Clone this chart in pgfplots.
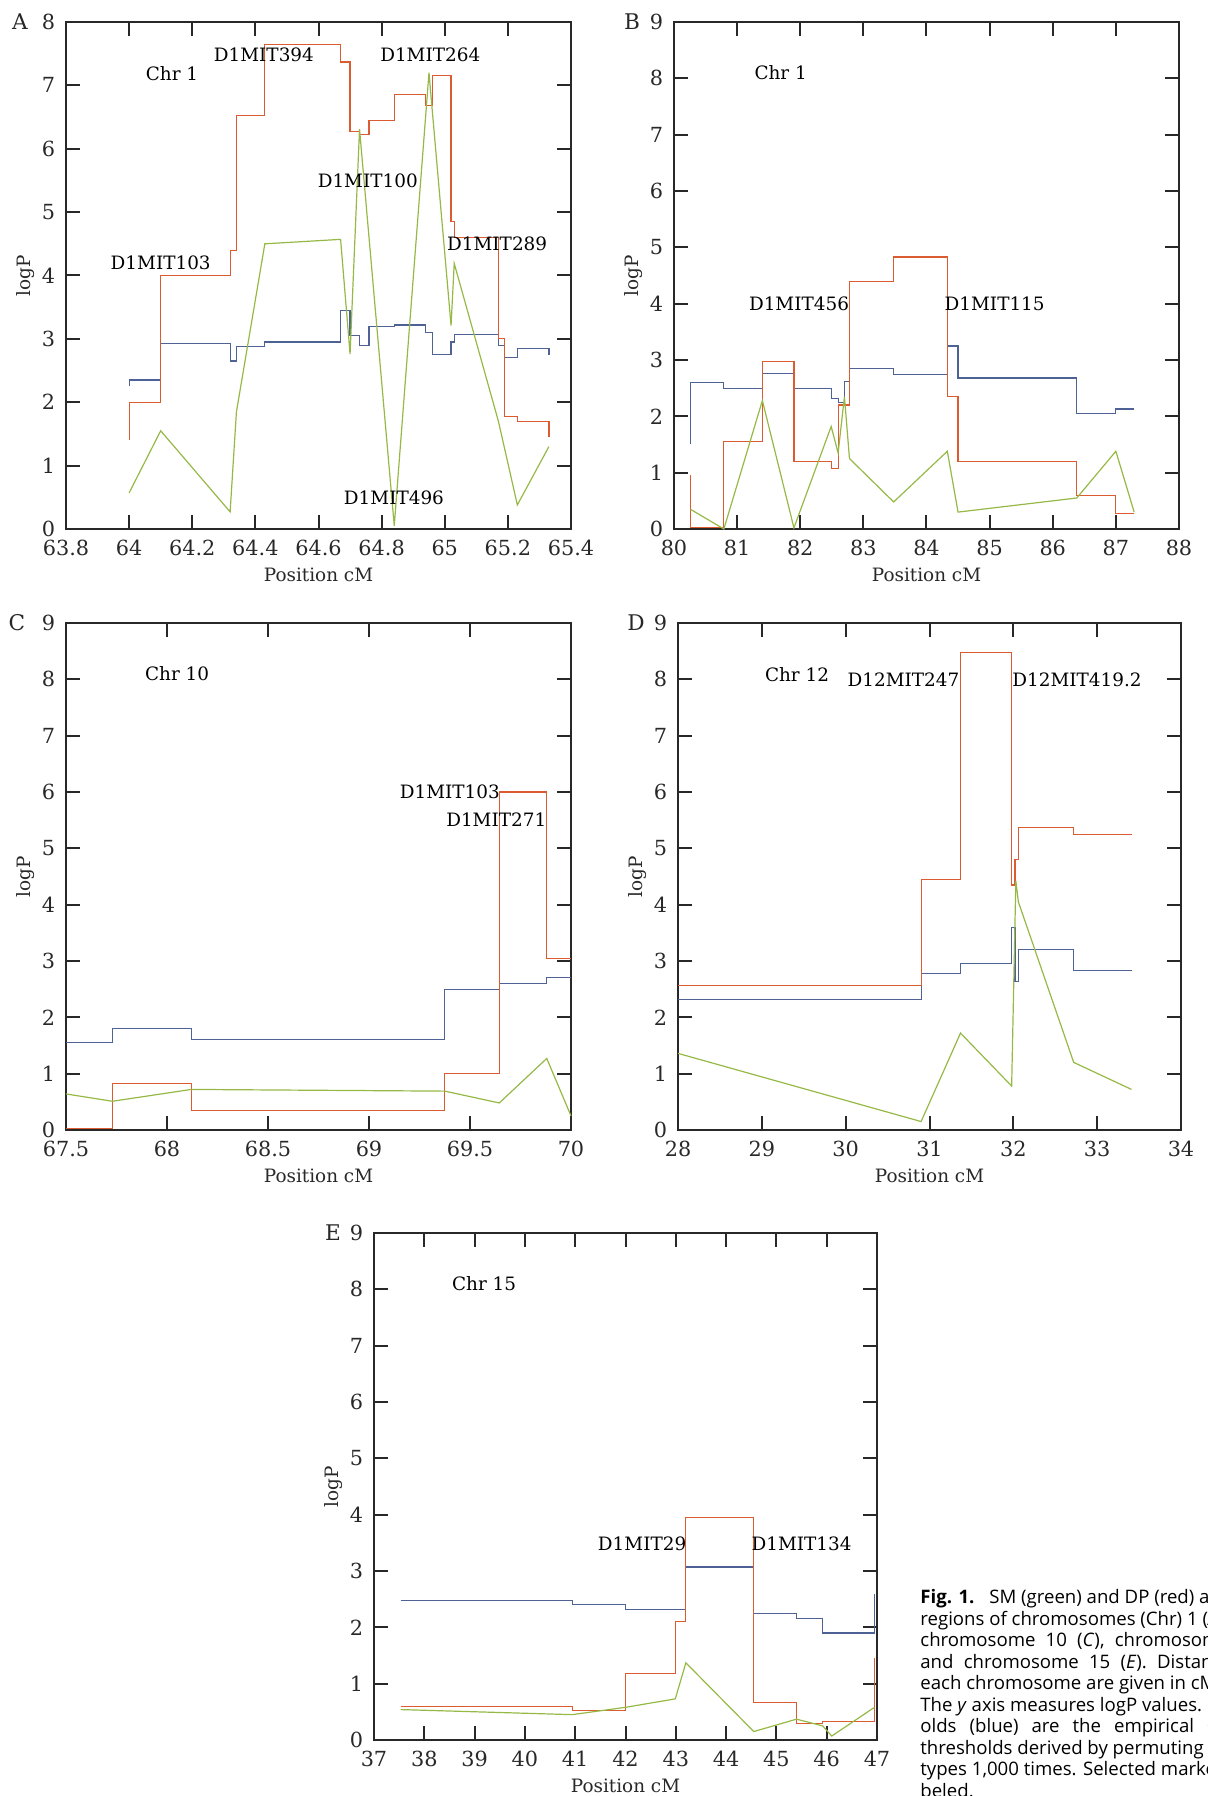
\documentclass[border=0pt]{standalone}
\usepackage{fontspec}
\setmainfont{DejaVu Serif}
\newfontfamily\capfont{Open Sans}
\usepackage{pgfplots}
\pgfplotsset{compat=1.18}
\definecolor{redl}{RGB}{218,92,48}
\definecolor{bluel}{RGB}{78,98,150}
\definecolor{greenl}{RGB}{150,185,70}
\definecolor{axc}{RGB}{40,40,40}
\newcommand{\fs}{\fontsize{9.2}{11}\selectfont}
\newcommand{\ft}{\fontsize{10.4}{12}\selectfont}
\pgfplotsset{panel/.style={
  scale only axis, width=252.5pt, height=253.5pt, anchor=south west,
  axis line style={line width=1.1pt, color=axc},
  tick align=inside, major tick length=7pt,
  tick style={line width=1pt, color=axc},
  ymin=0, clip=false, scaled ticks=false,
  tick label style={font=\ft, color=axc},
  label style={font=\fs, color=axc},
  /pgf/number format/assume math mode=true,
  yticklabel style={inner sep=0pt, xshift=-5.2pt},
  xticklabel style={inner sep=0pt, yshift=-5.4pt},
  xlabel={Position cM}, ylabel={logP},
  xlabel style={at={(axis description cs:0.5,-0.0907)}, anchor=center},
  ylabel style={at={(axis description cs:-0.081,0.5)}, anchor=center},
  every axis plot/.append style={line width=0.6pt},
}}
\begin{document}
\begin{tikzpicture}
\useasboundingbox (0,0) rectangle (603.5pt,898pt);
% ---------------- A
\begin{axis}[panel, at={(33pt,633.5pt)}, xmin=63.8, xmax=65.4, ymax=8,
  xtick={63.8,64,64.2,64.4,64.6,64.8,65,65.2,65.4}, ytick={0,...,8}]
\addplot[bluel, const plot] coordinates {(64.00,2.25) (64.00,2.35) (64.10,2.93) (64.32,2.65) (64.34,2.88) (64.43,2.95) (64.67,3.45) (64.70,3.05) (64.73,2.90) (64.76,3.20) (64.84,3.22) (64.94,3.10) (64.96,2.75) (65.02,2.95) (65.03,3.07) (65.17,2.90) (65.19,2.70) (65.23,2.85) (65.33,2.75)};
\addplot[redl, const plot] coordinates {(64.00,1.40) (64.00,2.00) (64.10,4.00) (64.32,4.40) (64.34,6.52) (64.43,7.65) (64.67,7.37) (64.70,6.27) (64.73,6.22) (64.76,6.45) (64.84,6.85) (64.94,6.68) (64.96,7.15) (65.02,4.85) (65.03,4.60) (65.17,3.00) (65.19,1.78) (65.23,1.70) (65.33,1.45)};
\addplot[greenl] coordinates {(64.00,0.57) (64.10,1.55) (64.32,0.27) (64.34,1.85) (64.43,4.50) (64.67,4.57) (64.70,2.76) (64.73,6.31) (64.84,0.05) (64.95,7.20) (65.02,3.21) (65.03,4.19) (65.17,1.70) (65.23,0.38) (65.33,1.30)};
\node[font=\fs] at (axis cs:64.136,7.18) {Chr 1};
\node[font=\fs] at (axis cs:64.427,7.49) {D1MIT394};
\node[font=\fs] at (axis cs:64.954,7.49) {D1MIT264};
\node[font=\fs] at (axis cs:64.756,5.49) {D1MIT100};
\node[font=\fs] at (axis cs:64.10,4.20) {D1MIT103};
\node[font=\fs] at (axis cs:65.166,4.50) {D1MIT289};
\node[font=\fs] at (axis cs:64.839,0.50) {D1MIT496};
\end{axis}
% ---------------- B
\begin{axis}[panel, at={(337pt,633.5pt)}, xmin=80, xmax=88, ymax=9,
  xtick={80,...,88}, ytick={0,...,9}]
\addplot[bluel, const plot] coordinates {(80.26,1.50) (80.26,2.60) (80.79,2.50) (81.40,2.76) (81.90,2.50) (82.49,2.32) (82.60,2.25) (82.70,2.62) (82.78,2.85) (83.48,2.74) (84.33,3.25) (84.50,2.68) (86.38,2.05) (87.00,2.13) (87.29,2.13)};
\addplot[redl, const plot] coordinates {(80.26,0.95) (80.26,0.03) (80.79,1.55) (81.40,2.97) (81.90,1.20) (82.49,1.08) (82.60,2.20) (82.78,4.40) (83.48,4.83) (84.33,2.35) (84.50,1.20) (86.38,0.60) (87.00,0.28) (87.29,0.28)};
\addplot[greenl] coordinates {(80.26,0.35) (80.79,0.00) (81.40,2.28) (81.90,0.02) (82.49,1.82) (82.60,1.35) (82.70,2.35) (82.78,1.25) (83.48,0.48) (84.33,1.38) (84.50,0.30) (86.38,0.55) (87.00,1.38) (87.29,0.30)};
\node[font=\fs] at (axis cs:81.69,8.10) {Chr 1};
\node[font=\fs] at (axis cs:81.98,4.00) {D1MIT456};
\node[font=\fs] at (axis cs:85.08,4.00) {D1MIT115};
\end{axis}
% ---------------- C
\begin{axis}[panel, at={(33pt,333pt)}, xmin=67.5, xmax=70, ymax=9,
  xtick={67.5,68,68.5,69,69.5,70}, ytick={0,...,9}]
\addplot[bluel, const plot] coordinates {(67.5,1.55) (67.73,1.80) (68.12,1.61) (69.375,2.50) (69.645,2.60) (69.88,2.70) (70.0,2.70)};
\addplot[redl, const plot] coordinates {(67.5,0.03) (67.73,0.83) (68.12,0.35) (69.375,1.00) (69.645,6.00) (69.88,3.05) (70.0,3.05)};
\addplot[greenl] coordinates {(67.5,0.64) (67.73,0.51) (68.12,0.72) (69.375,0.69) (69.645,0.48) (69.88,1.27) (70.0,0.25)};
\node[font=\fs] at (axis cs:68.05,8.10) {Chr 10};
\node[font=\fs] at (axis cs:69.40,6.00) {D1MIT103};
\node[font=\fs] at (axis cs:69.63,5.50) {D1MIT271};
\end{axis}
% ---------------- D
\begin{axis}[panel, width=251.5pt, at={(339pt,333pt)}, xmin=28, xmax=34, ymax=9,
  xtick={28,...,34}, ytick={0,...,9}]
\addplot[bluel, const plot] coordinates {(28.0,2.32) (30.90,2.78) (31.37,2.95) (31.98,3.60) (32.02,2.63) (32.06,3.20) (32.72,2.83) (33.41,2.83)};
\addplot[redl, const plot] coordinates {(28.0,2.57) (30.90,4.45) (31.37,8.47) (31.98,4.35) (32.02,4.80) (32.06,5.37) (32.72,5.25) (33.41,5.25)};
\addplot[greenl] coordinates {(28.0,1.36) (30.90,0.15) (31.37,1.72) (31.98,0.78) (32.03,4.42) (32.06,4.05) (32.72,1.20) (33.41,0.72)};
\node[font=\fs] at (axis cs:29.42,8.09) {Chr 12};
\node[font=\fs] at (axis cs:30.69,8.00) {D12MIT247};
\node[font=\fs] at (axis cs:32.76,8.00) {D12MIT419.2};
\end{axis}
% ---------------- E
\begin{axis}[panel, width=251.5pt, at={(187pt,28pt)}, xmin=37, xmax=47, ymax=9,
  xtick={37,...,47}, ytick={0,...,9}]
\addplot[bluel, const plot] coordinates {(37.53,2.48) (40.94,2.41) (42.00,2.32) (43.20,3.07) (44.55,2.25) (45.40,2.15) (45.92,1.90) (46.95,2.60)};
\addplot[redl, const plot] coordinates {(37.53,0.60) (40.94,0.52) (42.00,1.18) (42.99,2.10) (43.20,3.95) (44.55,0.67) (45.40,0.30) (45.92,0.33) (46.95,1.45)};
\addplot[greenl] coordinates {(37.53,0.54) (40.94,0.45) (42.00,0.58) (42.99,0.73) (43.20,1.37) (44.55,0.15) (45.40,0.37) (45.92,0.25) (46.10,0.07) (46.95,0.58)};
\node[font=\fs] at (axis cs:39.19,8.10) {Chr 15};
\node[font=\fs] at (axis cs:42.33,3.48) {D1MIT29};
\node[font=\fs] at (axis cs:45.50,3.48) {D1MIT134};
\end{axis}
% panel letters
\node[font=\fontsize{10.8}{12}\selectfont, color=axc] at (10pt,887pt) {A};
\node[font=\fontsize{10.8}{12}\selectfont, color=axc] at (316pt,887pt) {B};
\node[font=\fontsize{10.8}{12}\selectfont, color=axc] at (8.5pt,586.5pt) {C};
\node[font=\fontsize{10.8}{12}\selectfont, color=axc] at (318pt,586.5pt) {D};
\node[font=\fontsize{10.8}{12}\selectfont, color=axc] at (166.5pt,281.5pt) {E};
% caption (cut off at the page edge, as in the reference)
\begin{scope}[every node/.style={anchor=base west, inner sep=0pt, font=\capfont\fontsize{9.3}{10.75}\selectfont}]
\node at (460pt,96pt) {\textbf{Fig. 1.}\hspace{0.8em}SM (green) and DP (red) are plotted};
\node at (460pt,85.25pt) {regions of chromosomes (Chr) 1 (\textit{A} and \textit{B}),};
\node at (460pt,74.5pt) {chromosome\hspace{0.55em}10\hspace{0.55em}(\textit{C}),\hspace{0.55em}chromosome 12};
\node at (460pt,63.75pt) {and\hspace{0.55em}chromosome\hspace{0.55em}15\hspace{0.55em}(\textit{E}).\hspace{0.55em}Distances along};
\node at (460pt,53pt) {each chromosome are given in cM. DP};
\node at (460pt,42.25pt) {The \textit{y} axis measures logP values. DP thresh-};
\node at (460pt,31.5pt) {olds\hspace{0.7em}(blue)\hspace{0.7em}are\hspace{0.7em}the\hspace{0.7em}empirical\hspace{0.7em}0.05};
\node at (460pt,20.75pt) {thresholds derived by permuting the pheno-};
\node at (460pt,10pt) {types 1,000 times. Selected markers are la-};
\node at (460pt,-0.75pt) {beled.};
\end{scope}
\end{tikzpicture}
\end{document}
